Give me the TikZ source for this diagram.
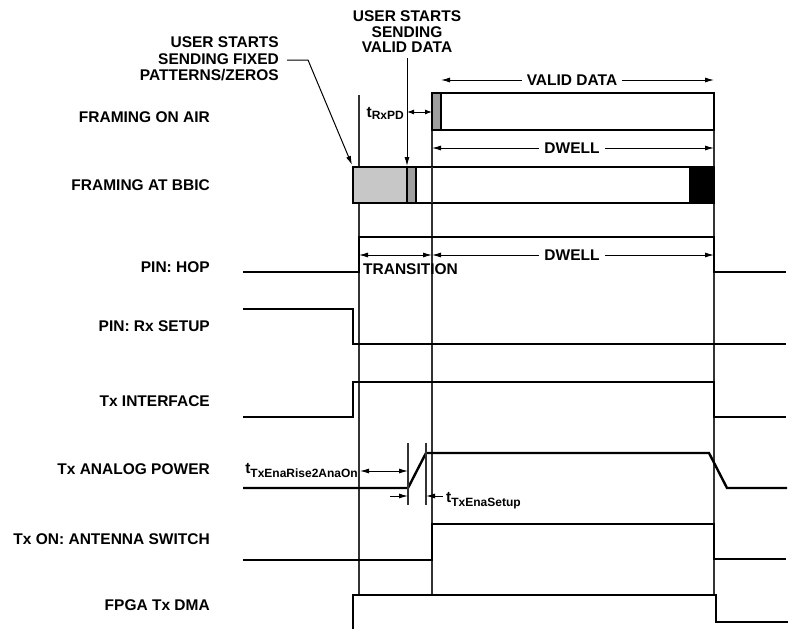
\documentclass[tikz,border=0pt]{standalone}
\usepackage{fontspec}
\setmainfont{Liberation Sans}
\usetikzlibrary{arrows.meta}
\newcommand\subtx[1]{{\fontsize{12}{12}\selectfont\raisebox{-4.5pt}{#1}}}
\begin{document}
\begin{tikzpicture}[x=1pt,y=-1pt,
  lbl/.style={font=\fontsize{15.5}{16.5}\selectfont\bfseries, inner sep=0pt},
  sig/.style={line width=2.4pt, line join=miter, line cap=butt},
  thinv/.style={line width=1.1pt, black!80},
  dimone/.style={line width=1pt, -{Latex[length=9pt,width=5pt]}},
  dimtwo/.style={line width=1pt, {Latex[length=9pt,width=5pt]}-{Latex[length=9pt,width=5pt]}},
  dimsmall/.style={line width=1pt, {Latex[length=7pt,width=5pt]}-{Latex[length=7pt,width=5pt]}},
  boxln/.style={line width=2.2pt},
  gap/.style={lbl, fill=white, inner xsep=5pt, inner ysep=1pt}]
\useasboundingbox (0,0) rectangle (807,629);

% ---- left labels ----
\node[lbl, anchor=east] (lair)  at (210,117) {FRAMING ON AIR};
\node[lbl, anchor=east] (lbbic) at (210,185) {FRAMING AT BBIC};
\node[lbl, anchor=east] (lhop)  at (210,267) {PIN: HOP};
\node[lbl, anchor=east] (lrx)   at (210,326) {PIN: Rx SETUP};
\node[lbl, anchor=east] (ltxi)  at (210,401) {Tx INTERFACE};
\node[lbl, anchor=east] (ltxa)  at (210,469) {Tx ANALOG POWER};
\node[lbl, anchor=east] (ltxon) at (210,539) {Tx ON: ANTENNA SWITCH};
\node[lbl, anchor=east] (lfpga) at (210,605) {FPGA Tx DMA};

% ---- thin vertical reference lines ----
\coordinate (va1) at (359,95);  \coordinate (vb1) at (359,595);
\coordinate (va2) at (432,130); \coordinate (vb2) at (432,595);
\coordinate (va3) at (714,130); \coordinate (vb3) at (714,595);
\draw[thinv] (va1) -- (vb1);
\draw[thinv] (va2) -- (vb2);
\draw[thinv] (va3) -- (vb3);

% ---- framing on air ----
\fill[black!38] (432,93) rectangle (441,130);
\draw[boxln] (432,93) rectangle (714,130);
\draw[boxln] (441,93) -- (441,130);

% ---- framing at BBIC ----
\fill[black!22] (353,167) rectangle (407,203);
\fill[black!38] (407,167) rectangle (416,203);
\fill[black] (689,167) rectangle (714,203);
\draw[boxln] (353,167) rectangle (714,203);
\draw[boxln] (407,167) -- (407,203);
\draw[boxln] (416,167) -- (416,203);
\draw[thinv] (432,167) -- (432,203);

% ---- top annotations ----
\node[lbl, align=right, anchor=east] (ufix) at (279,59) {USER STARTS\\SENDING FIXED\\PATTERNS/ZEROS};
\coordinate (fixa) at (287,60);
\coordinate (fixb) at (308,60);
\coordinate (fixc) at (352,165);
\draw[dimone] (fixa) -- (fixb) -- (fixc);

\node[lbl, align=center, font=\fontsize{15.5}{15.5}\selectfont\bfseries] (uval) at (407,32) {USER STARTS\\SENDING\\VALID DATA};
\coordinate (vala) at (407,58);
\coordinate (valb) at (407,166);
\draw[dimone] (vala) -- (valb);

% valid data arrow
\coordinate (vd1) at (441,80); \coordinate (vd2) at (714,80);
\draw[dimtwo] (vd1) -- (vd2);
\node[gap] (vdt) at (572,80) {VALID DATA};

% dwell (air)
\coordinate (dw1) at (432,148); \coordinate (dw2) at (714,148);
\draw[dimtwo] (dw1) -- (dw2);
\node[gap] (dwt) at (572,148) {DWELL};

% tRxPD
\node[lbl, anchor=base east] (trx) at (404,117) {t{\fontsize{12}{12}\selectfont\raisebox{-2.5pt}{RxPD}}};
\coordinate (rx1) at (407,112); \coordinate (rx2) at (432,112);
\draw[dimsmall] (rx1) -- (rx2);

% ---- PIN: HOP ----
\draw[sig] (243,272) -- (359,272) -- (359,237) -- (714,237) -- (714,272) -- (786,272);
\coordinate (tr1) at (359,255); \coordinate (tr2) at (432,255); \coordinate (tr3) at (714,255);
\draw[dimtwo] (tr1) -- (tr2);
\draw[dimtwo] (tr2) -- (tr3);
\node[gap] (dwt2) at (572,255) {DWELL};
\node[lbl, anchor=west] (trt) at (363,269) {TRANSITION};

% ---- PIN: Rx SETUP ----
\draw[sig] (243,309) -- (353,309) -- (353,344) -- (786,344);

% ---- Tx INTERFACE ----
\draw[sig] (243,417) -- (353,417) -- (353,382) -- (714,382) -- (714,417) -- (786,417);

% ---- Tx ANALOG POWER ----
\draw[sig] (243,488) -- (408,488) -- (426,453) -- (709,453) -- (727,488) -- (787,488);
\draw[thinv] (408,443) -- (408,505);
\draw[thinv] (426,443) -- (426,505);
\node[lbl, anchor=base east] (tena) at (358,473) {t\subtx{TxEnaRise2AnaOn}};
\coordinate (ea1) at (360,471); \coordinate (ea2) at (408,471);
\draw[dimtwo] (ea1) -- (ea2);
\coordinate (eb1) at (390,496); \coordinate (eb2) at (408,496);
\draw[dimone] (eb1) -- (eb2);
\coordinate (ec1) at (443,496); \coordinate (ec2) at (426,496);
\draw[dimone] (ec1) -- (ec2);
\node[lbl, anchor=base west] (tset) at (446,502) {t\subtx{TxEnaSetup}};

% ---- Tx ON: ANTENNA SWITCH ----
\draw[sig] (243,560) -- (432,560) -- (432,524) -- (714,524) -- (714,559) -- (786,559);

% ---- FPGA Tx DMA ----
\draw[sig] (353,635) -- (353,595) -- (716,595) -- (716,622) -- (788,622);

\end{tikzpicture}
\end{document}
